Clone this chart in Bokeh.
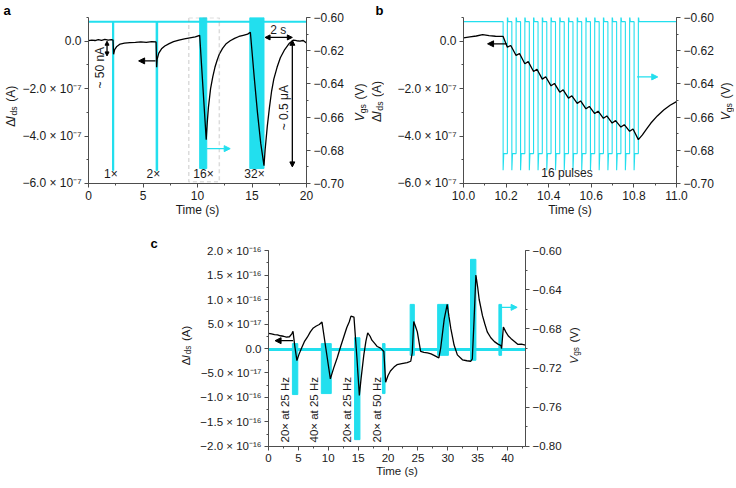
import math
from bokeh.plotting import figure
from bokeh.models import (Range1d, LinearAxis, Label, Arrow, NormalHead, BoxAnnotation,
                          SingleIntervalTicker, CustomJSTickFormatter, Spacer)
from bokeh.layouts import column, row
from bokeh.embed import file_html
from bokeh.resources import INLINE

CYAN = "#22dfee"
FONT = "Liberation Sans"
TXT = "#1a1a1a"
AX = "#4d4d4d"

# ---------------- data: panel a ----------------
a_time = [0.0, 0.3, 0.6, 0.9, 1.2, 1.5, 1.8, 2.1, 2.25, 2.3, 2.4, 2.6, 2.9, 3.3, 3.8, 4.3, 4.8,
          5.3, 5.8, 6.2, 6.25, 6.3, 6.45, 6.7, 7.0, 7.4, 7.8, 8.3, 8.8, 9.3, 9.8, 10.2, 10.5,
          10.8, 10.9, 11.0, 11.2, 11.4, 11.6, 11.8, 12.0, 12.3, 12.6, 13.0, 13.4, 13.8, 14.2,
          14.6, 14.85, 15.2, 15.5, 15.8, 16.1, 16.2, 16.4, 16.6, 16.8, 17.0, 17.3, 17.6, 18.0,
          18.4, 18.8, 19.1, 19.4, 19.7, 20.0]
a_dIds_e7 = [0.02, 0.05, 0.03, 0.07, 0.04, 0.08, 0.05, 0.07, 0.05, -0.55, -0.35, -0.22, -0.12,
             -0.08, -0.06, -0.05, -0.03, -0.05, -0.02, -0.03, -1.1, -0.75, -0.5, -0.32, -0.2,
             -0.1, -0.02, 0.05, 0.1, 0.14, 0.18, 0.25, -1.95, -4.15, -3.4, -2.8, -2.0, -1.5,
             -1.1, -0.8, -0.55, -0.3, -0.12, 0.02, 0.12, 0.2, 0.25, 0.3, 0.38, -1.5, -3.0, -4.3,
             -5.25, -4.6, -3.6, -2.8, -2.1, -1.6, -1.1, -0.7, -0.35, -0.1, 0.05, 0.02, 0.0,
             0.03, -0.08]
a_vgs_baseline = -0.6025
a_single_pulse_t = [2.25, 6.25]
a_single_pulse_w = [0.02, 0.05]
a_pulse_low = -0.692
a_train_start = [10.2, 14.8]
a_train_end = [10.85, 16.1]
a_train_top = -0.600
a_train_bottom = -0.691
a_pulse_labels = ["1×", "2×", "16×", "32×"]
a_pulse_label_t = [2.06, 5.96, 10.55, 15.23]

# ---------------- data: panel b ----------------
b_time = [10.0, 10.03, 10.06, 10.09, 10.12, 10.15, 10.186, 10.206, 10.222, 10.247, 10.263,
          10.288, 10.304, 10.329, 10.345, 10.370, 10.386, 10.411, 10.427, 10.452, 10.468,
          10.493, 10.509, 10.534, 10.550, 10.575, 10.591, 10.616, 10.632, 10.657, 10.673,
          10.698, 10.714, 10.739, 10.755, 10.780, 10.796, 10.821, 10.84, 10.86, 10.88, 10.91,
          10.94, 10.97, 11.0]
b_dIds_e7 = [0.14, 0.18, 0.22, 0.28, 0.24, 0.21, 0.2, -0.25, -0.18, -0.6, -0.52, -0.95, -0.86,
             -1.28, -1.18, -1.6, -1.5, -1.88, -1.78, -2.15, -2.05, -2.4, -2.3, -2.62, -2.52,
             -2.85, -2.75, -3.05, -2.95, -3.25, -3.15, -3.45, -3.35, -3.62, -3.52, -3.8, -3.7,
             -4.15, -3.95, -3.7, -3.45, -3.15, -2.9, -2.7, -2.55]
b_pulse_start = [10.186, 10.227, 10.268, 10.309, 10.350, 10.391, 10.432, 10.473, 10.514,
                 10.555, 10.596, 10.637, 10.678, 10.719, 10.760, 10.801]
b_pulse_width = 0.02
b_vgs_baseline = -0.6025
b_vgs_low = -0.682
b_vgs_under = -0.692
b_vgs_over = -0.598

# ---------------- data: panel c ----------------
c_time = [0, 0.5, 1, 1.5, 2, 2.5, 3, 3.5, 3.9, 4.1, 4.4, 4.75, 5.1, 5.5, 6, 6.5, 7, 7.5, 8, 8.5,
          8.95, 9.6, 10.35, 10.9, 11.5, 12.1, 12.6, 13.1, 13.5, 13.8, 14.3, 14.8, 15.2, 15.5,
          15.95, 16.3, 16.6, 17.0, 17.3, 17.8, 18.2, 18.75, 19.3, 19.6, 20.0, 20.4, 21.0, 21.5,
          22.3, 23.2, 23.8, 24.05, 24.3, 24.6, 24.9, 25.45, 26.0, 26.6, 27.2, 27.7, 28.5, 28.8,
          29.1, 29.4, 29.9, 30.2, 30.5, 31.05, 31.6, 32.45, 33.2, 33.85, 34.1, 34.4, 34.7, 35.0,
          35.25, 35.8, 36.2, 36.6, 37.2, 37.8, 38.4, 38.9, 39.0, 39.3, 39.7, 40.1, 40.55, 41.1,
          41.7, 42.3, 43.0]
c_dIds_e17 = [3.1, 3.0, 2.85, 2.8, 2.6, 2.5, 2.3, 2.4, 3.0, 3.5, 0.5, -2.46, -1.2, 0.0, 1.4,
              2.3, 3.4, 4.2, 4.6, 4.9, 5.4, 0.0, -6.2, -4.0, -1.9, 0.5, 2.4, 4.3, 5.4, 6.6, 6.4,
              -2.0, -9.6, -6.0, -1.3, 1.5, 3.2, 2.5, 1.7, 1.0, 0.4, 0.07, -0.6, -6.9, -5.5, -4.6,
              -3.8, -3.3, -3.1, -2.9, -2.6, -0.9, 5.5, 4.5, 3.4, -0.6, -0.8, -0.9, -1.1, -1.4,
              -1.9, 0.0, 3.0, 6.0, 9.0, 6.5, 4.1, 0.7, -1.3, -2.3, -2.5, -2.6, -2.1, 6.0, 15.0,
              12.5, 10.0, 6.7, 5.0, 3.4, 2.2, 1.4, 0.9, 0.6, 0.0, 4.4, 3.4, 2.6, 2.06, 1.5, 0.86,
              0.9, 0.7]
c_vgs_baseline = -0.701
c_block_start = [4.0, 8.84, 14.4, 19.07, 23.7, 28.3, 33.8, 38.55]
c_block_end = [4.9, 10.5, 15.3, 19.5, 24.4, 30.1, 34.7, 39.0]
c_block_top = [-0.695, -0.695, -0.689, -0.695, -0.655, -0.655, -0.609, -0.655]
c_block_bottom = [-0.747, -0.746, -0.793, -0.746, -0.707, -0.707, -0.712, -0.707]
c_block_labels = ["20× at 25 Hz", "40× at 25 Hz", "20× at 25 Hz", "20× at 50 Hz"]
c_block_label_t = [2.8, 7.55, 13.15, 18.2]

assert len(a_time) == len(a_dIds_e7)
assert len(b_time) == len(b_dIds_e7)
assert len(c_time) == len(c_dIds_e17)

SCI_JS = """
if (Math.abs(tick) < 1e-25) { return "0.0"; }
const sup = {"-": "\u207b", "0": "\u2070", "1": "\u00b9", "2": "\u00b2", "3": "\u00b3",
             "4": "\u2074", "5": "\u2075", "6": "\u2076", "7": "\u2077", "8": "\u2078", "9": "\u2079"};
const e = Math.floor(Math.log10(Math.abs(tick)) + 1e-6);
const m = tick / Math.pow(10, e);
const es = String(e).split("").map(c => sup[c]).join("");
return (m < 0 ? "\u2212" : "") + Math.abs(m).toFixed(1) + " \u00d7 10" + es;
"""
R_JS = 'return (tick < -1e-9 ? "\\u2212" : "") + Math.abs(tick).toFixed(2);'


def fmt_x(dec):
    return CustomJSTickFormatter(code="return tick.toFixed(%d);" % dec)


def style_axis(ax, fs):
    ax.axis_line_color = AX
    ax.axis_line_width = 1
    ax.major_tick_line_color = AX
    ax.minor_tick_line_color = AX
    ax.major_tick_out = 4
    ax.major_tick_in = 0
    ax.minor_tick_out = 2
    ax.minor_tick_in = 0
    ax.major_label_text_font = FONT
    ax.major_label_text_font_size = f"{fs}px"
    ax.major_label_text_color = TXT
    ax.major_label_standoff = 3
    ax.axis_label_text_font = FONT
    ax.axis_label_text_font_size = f"{fs}px"
    ax.axis_label_text_font_style = "normal"
    ax.axis_label_text_color = TXT
    ax.axis_label_standoff = 0


def make_fig(w, h, xr, yr, yr2, bl, br, bt, bb, fs, xint, xdec, yint, y2int):
    p = figure(width=w, height=h, x_range=Range1d(*xr), y_range=Range1d(*yr),
               output_backend="svg", toolbar_location=None,
               min_border_left=bl, min_border_right=br, min_border_top=bt, min_border_bottom=bb)
    p.extra_y_ranges = {"vgs": Range1d(*yr2)}
    p.grid.visible = False
    p.outline_line_color = None
    p.xaxis.ticker = SingleIntervalTicker(interval=xint, num_minor_ticks=2)
    p.xaxis.formatter = fmt_x(xdec)
    p.xaxis.axis_label = "Time (s)"
    p.yaxis.ticker = SingleIntervalTicker(interval=yint, num_minor_ticks=2)
    p.yaxis.formatter = CustomJSTickFormatter(code=SCI_JS)
    r = LinearAxis(y_range_name="vgs", ticker=SingleIntervalTicker(interval=y2int, num_minor_ticks=2),
                   formatter=CustomJSTickFormatter(code=R_JS))
    p.add_layout(r, "right")
    for ax in [p.xaxis[0], p.yaxis[0], r]:
        style_axis(ax, fs)
    return p


def strip(w, h, bt, bb, tag=None, tag_x=0):
    """Bare plot used for side texts. Its frame is aligned with the neighbouring plots'
    frames, so the y range is chosen to make 1 data unit = 1 pixel from the canvas bottom.
    The panel letter is its title (drawn in the top border, so not clipped)."""
    s = figure(width=w, height=h, x_range=Range1d(0, w), y_range=Range1d(bb, h - bt),
               output_backend="svg", toolbar_location=None, x_axis_type=None, y_axis_type=None,
               min_border=0, min_border_left=0, min_border_right=0, min_border_top=bt,
               min_border_bottom=bb)
    s.outline_line_color = None
    s.grid.visible = False
    if tag:
        s.title.text = tag
        s.title.text_font = FONT
        s.title.text_font_size = "13px"
        s.title.text_font_style = "bold"
        s.title.text_color = "black"
        s.title.align = "left"
        s.title.offset = tag_x
        s.title.standoff = 0
    return s


EM = {'Δ': 0.62, 'I': 0.278, 'd': 0.556, 's': 0.5, 'g': 0.556, ' ': 0.278, '(': 0.333,
      ')': 0.333, 'A': 0.667, 'V': 0.667}


def tw(s, fs):
    return sum(EM.get(c, 0.55) for c in s) * fs


def ylabel(p, cx, cy, kind, fs):
    """Rotated axis title made of pieces (subscript shifted toward +x); cx = text centre line."""
    sub = 0.25 * fs
    gap = 0.4 * fs
    if kind == "I":
        parts = [("Δ", fs, "normal", 0, 0), ("I", fs, "italic", 0, 0.6),
                 ("ds", fs * 0.72, "normal", sub, 0), ("(A)", fs, "normal", 0, gap)]
    else:
        parts = [("V", fs, "italic", 0, 0.3), ("gs", fs * 0.72, "normal", sub, 0),
                 ("(V)", fs, "normal", 0, gap)]
    total = sum(tw(t, s) + g for t, s, _, _, g in parts)
    y = cy - total / 2
    for t, s, st, dx, g in parts:
        if t.startswith("("):
            y += g
        p.add_layout(Label(x=cx + dx, y=y, text=t, angle=math.pi / 2, text_font=FONT,
                           text_font_size=f"{s:.1f}px", text_font_style=st, text_color=TXT,
                           text_align="left", text_baseline="middle"))
        y += tw(t, s) + (0 if t.startswith("(") else g)


def arrow(p, x0, y0, x1, y1, color, both=False, rng=None, size=6, lw=1.3):
    kw = dict(x_start=x0, y_start=y0, x_end=x1, y_end=y1, line_color=color, line_width=lw,
              end=NormalHead(size=size, fill_color=color, line_color=color, line_width=1))
    if both:
        kw["start"] = NormalHead(size=size, fill_color=color, line_color=color, line_width=1)
    if rng:
        kw["y_range_name"] = rng
    p.add_layout(Arrow(**kw))


def text(p, x, y, t, fs, angle=0.0, rng=None):
    kw = dict(x=x, y=y, text=t, angle=angle, text_font=FONT, text_font_size=f"{fs}px",
              text_color=TXT, text_align="center", text_baseline="middle")
    if rng:
        kw["y_range_name"] = rng
    p.add_layout(Label(**kw))


H1, T1, B1 = 223, 15, 40
H2, T2, B2 = 257, 27, 34

# ---------------- panel a ----------------
pa = make_fig(333, H1, (0, 20), (-6.0001e-7, 1e-7), (-0.70001, -0.6), 69, 46, T1, B1, 12,
              5, 0, 2e-7, 0.02)
a_cx, a_cy = [0.0], [a_vgs_baseline]
for t0, w0 in zip(a_single_pulse_t, a_single_pulse_w):
    a_cx += [t0, t0, t0 + w0, t0 + w0]
    a_cy += [a_vgs_baseline, a_pulse_low, a_pulse_low, a_vgs_baseline]
a_cx.append(20.0)
a_cy.append(a_vgs_baseline)
pa.line(a_cx, a_cy, color=CYAN, line_width=2, y_range_name="vgs")
pa.quad(left=a_train_start, right=a_train_end, top=[a_train_top] * len(a_train_start),
        bottom=[a_train_bottom] * len(a_train_start), fill_color=CYAN, line_color=CYAN,
        y_range_name="vgs")
pa.line(a_time, [v * 1e-7 for v in a_dIds_e7], color="black", line_width=1.3)
pa.add_layout(BoxAnnotation(left=9.2, right=12.0, top=0.99e-7, bottom=-5.93e-7, fill_alpha=0,
                            line_color="#8a8a8a", line_dash="4 3", line_width=1.5))
for lab, t in zip(a_pulse_labels, a_pulse_label_t):
    text(pa, t, -5.58e-7, lab, 12)
arrow(pa, 6.15, -0.83e-7, 4.6, -0.83e-7, "black")
arrow(pa, 10.85, -0.679, 13.0, -0.679, CYAN, rng="vgs")
arrow(pa, 1.7, 0.0, 1.7, -0.62e-7, "black", both=True, size=4)
text(pa, 1.1, -1.12e-7, "~ 50 nA", 12, angle=math.pi / 2)
arrow(pa, 16.2, -0.612, 18.7, -0.612, "black", both=True, rng="vgs", size=5)
text(pa, 17.4, -0.6075, "2 s", 12, rng="vgs")
arrow(pa, 18.7, 0.04e-7, 18.7, -5.3e-7, "black", both=True, size=5)
text(pa, 17.9, -2.8e-7, "~ 0.5 μA", 12, angle=math.pi / 2)

# ---------------- panel b ----------------
pb = make_fig(334, H1, (10.0, 11.0001), (-6.0001e-7, 1e-7), (-0.70001, -0.6), 79, 42, T1, B1, 12,
              0.2, 1, 2e-7, 0.02)
b_cx, b_cy = [10.0], [b_vgs_baseline]
for s in b_pulse_start:
    e = s + b_pulse_width
    b_cx += [s, s, s + 0.003, e, e, e + 0.003]
    b_cy += [b_vgs_baseline, b_vgs_under, b_vgs_low, b_vgs_low, b_vgs_over, b_vgs_baseline]
b_cx.append(11.0)
b_cy.append(b_vgs_baseline)
pb.line(b_cx, b_cy, color=CYAN, line_width=1.1, y_range_name="vgs")
pb.line(b_time, [v * 1e-7 for v in b_dIds_e7], color="black", line_width=1.3)
arrow(pb, 10.204, -0.11e-7, 10.113, -0.11e-7, "black")
arrow(pb, 10.815, -0.6358, 10.912, -0.6358, CYAN, rng="vgs")
text(pb, 10.486, -5.54e-7, "16 pulses", 12)

# ---------------- panel c ----------------
pc = make_fig(371, H2, (0, 43), (-2.00001e-16, 2.00001e-16), (-0.80001, -0.59999), 74, 40, T2,
              B2, 11.5, 5, 0, 5e-17, 0.04)
pc.line([0, 43], [c_vgs_baseline, c_vgs_baseline], color=CYAN, line_width=3, y_range_name="vgs")
pc.quad(left=c_block_start, right=c_block_end, top=c_block_top, bottom=c_block_bottom,
        fill_color=CYAN, line_color=CYAN, y_range_name="vgs")
pc.line(c_time, [v * 1e-17 for v in c_dIds_e17], color="black", line_width=1.3)
for lab, t in zip(c_block_labels, c_block_label_t):
    text(pc, t, -1.25e-16, lab, 11.5, angle=math.pi / 2)
arrow(pc, 4.1, 0.16e-16, 1.1, 0.16e-16, "black")
arrow(pc, 38.8, -0.658, 41.6, -0.658, CYAN, rng="vgs")

# ---------------- side text strips (panel letters and axis titles) ----------------
sA = strip(17, H1, T1, B1, "a", 1)      # left of panel a
ylabel(sA, 8, 118, "I", 12)

sM = strip(32, H1, T1, B1, "b", 23)     # between panels a and b
ylabel(sM, 7, 122, "V", 12)
ylabel(sM, 24, 123, "I", 12)

sR = strip(16, H1, T1, B1)              # right of panel b
ylabel(sR, 7, 123, "V", 12)

sC = strip(46, H2, T2, B2, "c", 2)      # left of panel c
ylabel(sC, 37, 135, "I", 11.5)

sCR = strip(24, H2, T2, B2)             # right of panel c
ylabel(sCR, 8, 135, "V", 11.5)

layout = column(row(Spacer(width=2, height=H1), sA, pa, sM, pb, sR),
                row(Spacer(width=148, height=H2), sC, pc, sCR))
open("out.html", "w").write(file_html(layout, INLINE))
